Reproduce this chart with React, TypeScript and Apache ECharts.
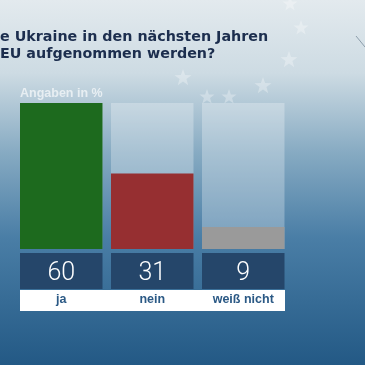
import React, { useEffect, useRef } from "react";
import * as echarts from "echarts";

const titleLines = ["e Ukraine in den nächsten Jahren", "EU aufgenommen werden?"];
const unitLabel = "Angaben in %";
const categories = ["ja", "nein", "weiß nicht"];
const values = [60, 31, 9];
const barColors = ["#1d6a1e", "#962f31", "#9a9a9a"];

function starPoints(cx: number, cy: number, r: number): number[][] {
  const pts: number[][] = [];
  for (let i = 0; i < 10; i++) {
    const a = -Math.PI / 2 + (i * Math.PI) / 5;
    const rr = i % 2 === 0 ? r : r * 0.4;
    pts.push([cx + rr * Math.cos(a), cy + rr * Math.sin(a)]);
  }
  return pts;
}

const stars = [
  [183, 78, 9],
  [207, 97, 8],
  [229, 97, 8],
  [263, 86, 9],
  [289, 60, 9],
  [301, 28, 8],
  [290, 4, 8],
];

export default function App() {
  const ref = useRef<HTMLDivElement>(null);
  useEffect(() => {
    if (!ref.current) return;
    const chart = echarts.init(ref.current, undefined, { renderer: "svg" });
    const titleStyle = {
      fontFamily: "DejaVu Sans",
      fontWeight: "bold",
      fontSize: 14.3,
      lineHeight: 16,
      fill: "#1c2e4e",
    };
    chart.setOption({
      animation: false,
      graphic: [
        {
          type: "rect",
          z: -10,
          silent: true,
          shape: { x: 0, y: 0, width: 365, height: 365 },
          style: {
            fill: new echarts.graphic.LinearGradient(0, 0, 0, 1, [
              { offset: 0, color: "#e3eaee" },
              { offset: 0.2, color: "#cddbe3" },
              { offset: 0.42, color: "#86aac2" },
              { offset: 0.65, color: "#4a7ea6" },
              { offset: 1, color: "#235985" },
            ]),
          },
        },
        ...stars.map((s) => ({
          type: "polygon",
          z: -9,
          silent: true,
          shape: { points: starPoints(s[0], s[1], s[2]) },
          style: { fill: "rgba(255,255,255,0.3)" },
        })),
        {
          type: "line",
          z: -9,
          silent: true,
          shape: { x1: 356, y1: 36, x2: 365, y2: 47 },
          style: { stroke: "rgba(90,110,130,0.6)", lineWidth: 1 },
        },
        {
          type: "text",
          left: 0,
          top: 27.5,
          style: { text: titleLines[0], ...titleStyle },
        },
        {
          type: "text",
          left: 0,
          top: 44.5,
          style: { text: titleLines[1], ...titleStyle },
        },
        {
          type: "text",
          left: 20,
          top: 86,
          style: {
            text: unitLabel,
            fontFamily: "Liberation Sans",
            fontWeight: "bold",
            fontSize: 12.5,
            fill: "rgba(255,255,255,0.65)",
          },
        },
        {
          type: "rect",
          z: 1,
          silent: true,
          shape: { x: 20, y: 290, width: 265, height: 21 },
          style: { fill: "#ffffff" },
        },
      ],
      grid: { left: 15.75, right: 76.25, top: 103, bottom: 116 },
      xAxis: {
        type: "category",
        data: categories,
        axisLine: { show: false },
        axisTick: { show: false },
        z: 5,
        axisLabel: {
          interval: 0,
          margin: 43,
          align: "center",
          color: "#2b5985",
          fontFamily: "Liberation Sans",
          fontWeight: "bold",
          fontSize: 12.5,
        },
      },
      yAxis: {
        type: "value",
        min: 0,
        max: Math.max(...values),
        show: false,
        splitLine: { show: false },
      },
      series: [
        {
          type: "bar",
          barWidth: 82.5,
          data: values.map((v, i) => ({ value: v, itemStyle: { color: barColors[i] } })),
          showBackground: true,
          backgroundStyle: { color: "rgba(255,255,255,0.28)" },
          label: {
            show: true,
            position: "bottom",
            distance: 4,
            formatter: "{c}",
            width: 82.5,
            height: 36,
            lineHeight: 36,
            align: "center",
            backgroundColor: "#25466a",
            color: "#ffffff",
            fontFamily: "Roboto",
            fontWeight: 300,
            fontSize: 25,
          },
        },
      ],
    });
    return () => chart.dispose();
  }, []);
  return (
    <div
      ref={ref}
      style={{ position: "fixed", left: 0, top: 0, width: 365, height: 365 }}
    />
  );
}
